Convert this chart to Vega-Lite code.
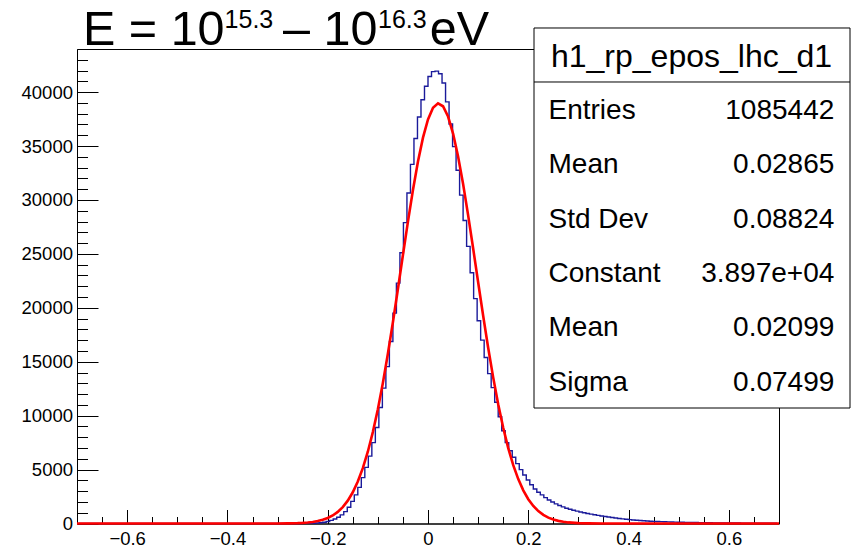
{
  "$schema": "https://vega.github.io/schema/vega-lite/v6.json",
  "width": 702,
  "height": 474.5,
  "autosize": {"type": "none"},
  "padding": {"left": 77, "top": 49, "right": 76, "bottom": 23.5},
  "background": "#ffffff",
  "config": {
    "view": {"stroke": "#000000", "strokeWidth": 1},
    "font": "Liberation Sans",
    "axis": {"labelFont": "Liberation Sans", "labelFontSize": 18.5, "labelColor": "#000000", "tickColor": "#000000", "tickWidth": 1, "domainColor": "#000000", "domainWidth": 1, "grid": false, "labelFlush": false, "labelOverlap": false, "zindex": 1}
  },
  "datasets": {
    "hist": [
      {"x": -0.6965, "n": 0}, {"x": -0.6895, "n": 0}, {"x": -0.6825, "n": 0}, {"x": -0.6755, "n": 0}, {"x": -0.6685, "n": 0},
      {"x": -0.6615, "n": 0}, {"x": -0.6545, "n": 0}, {"x": -0.6475, "n": 0}, {"x": -0.6405, "n": 0}, {"x": -0.6335, "n": 0},
      {"x": -0.6265, "n": 0}, {"x": -0.6195, "n": 0}, {"x": -0.6125, "n": 0}, {"x": -0.6055, "n": 0}, {"x": -0.5985, "n": 0},
      {"x": -0.5915, "n": 0}, {"x": -0.5845, "n": 0}, {"x": -0.5775, "n": 0}, {"x": -0.5705, "n": 0}, {"x": -0.5635, "n": 0},
      {"x": -0.5565, "n": 0}, {"x": -0.5495, "n": 0}, {"x": -0.5425, "n": 0}, {"x": -0.5355, "n": 0}, {"x": -0.5285, "n": 0},
      {"x": -0.5215, "n": 0}, {"x": -0.5145, "n": 0}, {"x": -0.5075, "n": 0}, {"x": -0.5005, "n": 0}, {"x": -0.4935, "n": 0},
      {"x": -0.4865, "n": 0}, {"x": -0.4795, "n": 0}, {"x": -0.4725, "n": 0}, {"x": -0.4655, "n": 0}, {"x": -0.4585, "n": 0},
      {"x": -0.4515, "n": 0}, {"x": -0.4445, "n": 0}, {"x": -0.4375, "n": 0}, {"x": -0.4305, "n": 0}, {"x": -0.4235, "n": 0},
      {"x": -0.4165, "n": 0}, {"x": -0.4095, "n": 0}, {"x": -0.4025, "n": 0}, {"x": -0.3955, "n": 0}, {"x": -0.3885, "n": 0},
      {"x": -0.3815, "n": 0}, {"x": -0.3745, "n": 0}, {"x": -0.3675, "n": 0}, {"x": -0.3605, "n": 0}, {"x": -0.3535, "n": 0},
      {"x": -0.3465, "n": 0}, {"x": -0.3395, "n": 0}, {"x": -0.3325, "n": 0}, {"x": -0.3255, "n": 0}, {"x": -0.3185, "n": 0},
      {"x": -0.3115, "n": 0}, {"x": -0.3045, "n": 0}, {"x": -0.2975, "n": 0}, {"x": -0.2905, "n": 0}, {"x": -0.2835, "n": 0},
      {"x": -0.2765, "n": 0}, {"x": -0.2695, "n": 0}, {"x": -0.2625, "n": 3}, {"x": -0.2555, "n": 5}, {"x": -0.2485, "n": 8},
      {"x": -0.2415, "n": 12}, {"x": -0.2345, "n": 15}, {"x": -0.2275, "n": 25}, {"x": -0.2205, "n": 45}, {"x": -0.2135, "n": 75},
      {"x": -0.2065, "n": 120}, {"x": -0.1995, "n": 190}, {"x": -0.1925, "n": 290}, {"x": -0.1855, "n": 420}, {"x": -0.1785, "n": 580},
      {"x": -0.1715, "n": 800}, {"x": -0.1645, "n": 1100}, {"x": -0.1575, "n": 1500}, {"x": -0.1505, "n": 2050}, {"x": -0.1435, "n": 2650},
      {"x": -0.1365, "n": 3350}, {"x": -0.1295, "n": 4250}, {"x": -0.1225, "n": 5200}, {"x": -0.1155, "n": 6250}, {"x": -0.1085, "n": 7500},
      {"x": -0.1015, "n": 8900}, {"x": -0.0945, "n": 10750}, {"x": -0.0875, "n": 12550}, {"x": -0.0805, "n": 14550}, {"x": -0.0735, "n": 16870},
      {"x": -0.0665, "n": 19510}, {"x": -0.0595, "n": 22290}, {"x": -0.0525, "n": 25100}, {"x": -0.0455, "n": 27900}, {"x": -0.0385, "n": 30650},
      {"x": -0.0315, "n": 33300}, {"x": -0.0245, "n": 35700}, {"x": -0.0175, "n": 37700}, {"x": -0.0105, "n": 39300}, {"x": -0.0035, "n": 40550},
      {"x": 0.0035, "n": 41450}, {"x": 0.0105, "n": 41900}, {"x": 0.0175, "n": 41950}, {"x": 0.0245, "n": 41700}, {"x": 0.0315, "n": 40850},
      {"x": 0.0385, "n": 39100}, {"x": 0.0455, "n": 37050}, {"x": 0.0525, "n": 34950}, {"x": 0.0595, "n": 32750}, {"x": 0.0665, "n": 30450},
      {"x": 0.0735, "n": 28100}, {"x": 0.0805, "n": 25700}, {"x": 0.0875, "n": 23250}, {"x": 0.0945, "n": 20850}, {"x": 0.1015, "n": 18800},
      {"x": 0.1085, "n": 17000}, {"x": 0.1155, "n": 15400}, {"x": 0.1225, "n": 13900}, {"x": 0.1295, "n": 12600}, {"x": 0.1365, "n": 11250},
      {"x": 0.1435, "n": 9900}, {"x": 0.1505, "n": 8600}, {"x": 0.1575, "n": 7500}, {"x": 0.1645, "n": 6750}, {"x": 0.1715, "n": 6150},
      {"x": 0.1785, "n": 5550}, {"x": 0.1855, "n": 5000}, {"x": 0.1925, "n": 4500}, {"x": 0.1995, "n": 4030}, {"x": 0.2065, "n": 3600},
      {"x": 0.2135, "n": 3200}, {"x": 0.2205, "n": 2900}, {"x": 0.2275, "n": 2650}, {"x": 0.2345, "n": 2400}, {"x": 0.2415, "n": 2180},
      {"x": 0.2485, "n": 1990}, {"x": 0.2555, "n": 1820}, {"x": 0.2625, "n": 1670}, {"x": 0.2695, "n": 1540}, {"x": 0.2765, "n": 1420},
      {"x": 0.2835, "n": 1320}, {"x": 0.2905, "n": 1230}, {"x": 0.2975, "n": 1150}, {"x": 0.3045, "n": 1070}, {"x": 0.3115, "n": 1000},
      {"x": 0.3185, "n": 930}, {"x": 0.3255, "n": 870}, {"x": 0.3325, "n": 810}, {"x": 0.3395, "n": 750}, {"x": 0.3465, "n": 700},
      {"x": 0.3535, "n": 650}, {"x": 0.3605, "n": 600}, {"x": 0.3675, "n": 555}, {"x": 0.3745, "n": 510}, {"x": 0.3815, "n": 470},
      {"x": 0.3885, "n": 430}, {"x": 0.3955, "n": 395}, {"x": 0.4025, "n": 360}, {"x": 0.4095, "n": 330}, {"x": 0.4165, "n": 300},
      {"x": 0.4235, "n": 275}, {"x": 0.4305, "n": 255}, {"x": 0.4375, "n": 235}, {"x": 0.4445, "n": 215}, {"x": 0.4515, "n": 200},
      {"x": 0.4585, "n": 185}, {"x": 0.4655, "n": 170}, {"x": 0.4725, "n": 160}, {"x": 0.4795, "n": 150}, {"x": 0.4865, "n": 140},
      {"x": 0.4935, "n": 130}, {"x": 0.5005, "n": 120}, {"x": 0.5075, "n": 112}, {"x": 0.5145, "n": 105}, {"x": 0.5215, "n": 98},
      {"x": 0.5285, "n": 92}, {"x": 0.5355, "n": 86}, {"x": 0.5425, "n": 80}, {"x": 0.5495, "n": 75}, {"x": 0.5565, "n": 70},
      {"x": 0.5635, "n": 66}, {"x": 0.5705, "n": 62}, {"x": 0.5775, "n": 58}, {"x": 0.5845, "n": 54}, {"x": 0.5915, "n": 51},
      {"x": 0.5985, "n": 48}, {"x": 0.6055, "n": 45}, {"x": 0.6125, "n": 42}, {"x": 0.6195, "n": 40}, {"x": 0.6265, "n": 37},
      {"x": 0.6335, "n": 35}, {"x": 0.6405, "n": 33}, {"x": 0.6475, "n": 31}, {"x": 0.6545, "n": 29}, {"x": 0.6615, "n": 27},
      {"x": 0.6685, "n": 26}, {"x": 0.6755, "n": 24}, {"x": 0.6825, "n": 23}, {"x": 0.6895, "n": 22}, {"x": 0.6965, "n": 20}
    ],
    "fit": [
      {"x": -0.70, "g": 0}, {"x": -0.40, "g": 0}, {"x": -0.30, "g": 4}, {"x": -0.28, "g": 12}, {"x": -0.26, "g": 35},
      {"x": -0.25, "g": 57}, {"x": -0.24, "g": 91}, {"x": -0.23, "g": 144}, {"x": -0.22, "g": 223}, {"x": -0.21, "g": 339},
      {"x": -0.20, "g": 507}, {"x": -0.19, "g": 744}, {"x": -0.18, "g": 1074}, {"x": -0.17, "g": 1521}, {"x": -0.16, "g": 2117},
      {"x": -0.15, "g": 2895}, {"x": -0.14, "g": 3889}, {"x": -0.13, "g": 5133}, {"x": -0.12, "g": 6654}, {"x": -0.11, "g": 8474},
      {"x": -0.10, "g": 10603}, {"x": -0.09, "g": 13032}, {"x": -0.08, "g": 15735}, {"x": -0.07, "g": 18664}, {"x": -0.06, "g": 21747},
      {"x": -0.05, "g": 24895}, {"x": -0.04, "g": 27993}, {"x": -0.03, "g": 30926}, {"x": -0.02, "g": 33562}, {"x": -0.01, "g": 35780},
      {"x": 0.00, "g": 37473}, {"x": 0.01, "g": 38554}, {"x": 0.02, "g": 38967}, {"x": 0.03, "g": 38690}, {"x": 0.04, "g": 37738},
      {"x": 0.05, "g": 36161}, {"x": 0.06, "g": 34038}, {"x": 0.07, "g": 31477}, {"x": 0.08, "g": 28593}, {"x": 0.09, "g": 25518},
      {"x": 0.10, "g": 22371}, {"x": 0.11, "g": 19268}, {"x": 0.12, "g": 16301}, {"x": 0.13, "g": 13550}, {"x": 0.14, "g": 11062},
      {"x": 0.15, "g": 8873}, {"x": 0.16, "g": 6992}, {"x": 0.17, "g": 5413}, {"x": 0.18, "g": 4116}, {"x": 0.19, "g": 3075},
      {"x": 0.20, "g": 2256}, {"x": 0.21, "g": 1627}, {"x": 0.22, "g": 1152}, {"x": 0.23, "g": 802}, {"x": 0.24, "g": 548},
      {"x": 0.25, "g": 368}, {"x": 0.26, "g": 243}, {"x": 0.27, "g": 157}, {"x": 0.28, "g": 100}, {"x": 0.30, "g": 39},
      {"x": 0.32, "g": 14}, {"x": 0.35, "g": 3}, {"x": 0.40, "g": 0}, {"x": 0.70, "g": 0}
    ],
    "stats": [
      {"id": "entries", "name": "Entries", "val": "1085442"},
      {"id": "mean", "name": "Mean", "val": "0.02865"},
      {"id": "stddev", "name": "Std Dev", "val": "0.08824"},
      {"id": "constant", "name": "Constant", "val": "3.897e+04"},
      {"id": "fitmean", "name": "Mean", "val": "0.02099"},
      {"id": "sigma", "name": "Sigma", "val": "0.07499"}
    ]
  },
  "resolve": {"scale": {"y": "independent"}, "axis": {"x": "independent", "y": "independent"}},
  "layer": [
    {
      "data": {"name": "hist"},
      "mark": {"type": "line", "interpolate": "step", "color": "#1a1a9a", "strokeWidth": 1.4},
      "encoding": {
        "x": {"field": "x", "type": "quantitative", "scale": {"domain": [-0.7, 0.7], "nice": false, "zero": false},
              "axis": {"orient": "bottom", "title": null, "values": [-0.6, -0.4, -0.2, 0, 0.2, 0.4, 0.6], "format": "~g", "ticks": false, "domain": true, "labelPadding": 5.5}},
        "y": {"field": "n", "type": "quantitative", "scale": {"domain": [0, 44000], "nice": false, "zero": false},
              "axis": {"orient": "left", "title": null, "values": [0, 5000, 10000, 15000, 20000, 25000, 30000, 35000, 40000], "format": "d", "ticks": false, "domain": true, "labelPadding": 4.5}}
      }
    },
    {
      "data": {"name": "fit"},
      "mark": {"type": "line", "color": "#ff0000", "strokeWidth": 2.6},
      "encoding": {
        "x": {"field": "x", "type": "quantitative", "scale": {"domain": [-0.7, 0.7], "nice": false, "zero": false},
              "axis": {"orient": "bottom", "title": null, "values": [-0.6, -0.4, -0.2, 0, 0.2, 0.4, 0.6], "labels": false, "domain": false, "tickSize": -14}},
        "y": {"field": "g", "type": "quantitative", "scale": {"domain": [0, 44000], "nice": false, "zero": false},
              "axis": {"orient": "left", "title": null, "values": [0, 5000, 10000, 15000, 20000, 25000, 30000, 35000, 40000], "labels": false, "domain": false, "tickSize": -21}}
      }
    },
    {
      "data": {"values": [{"box": "stats"}]},
      "mark": {"type": "rect", "fill": "#ffffff", "stroke": "#000000", "strokeWidth": 1},
      "encoding": {
        "x": {"datum": 0.2114, "type": "quantitative", "scale": {"domain": [-0.7, 0.7], "nice": false, "zero": false},
              "axis": {"orient": "bottom", "title": null, "values": [-0.65, -0.55, -0.5, -0.45, -0.35, -0.3, -0.25, -0.15, -0.1, -0.05, 0.05, 0.1, 0.15, 0.25, 0.3, 0.35, 0.45, 0.5, 0.55, 0.65], "labels": false, "domain": false, "tickSize": -7}},
        "x2": {"datum": 0.8416},
        "y": {"datum": 45948, "type": "quantitative", "scale": {"domain": [0, 44000], "nice": false, "zero": false},
              "axis": {"orient": "left", "title": null, "values": [1000, 2000, 3000, 4000, 6000, 7000, 8000, 9000, 11000, 12000, 13000, 14000, 16000, 17000, 18000, 19000, 21000, 22000, 23000, 24000, 26000, 27000, 28000, 29000, 31000, 32000, 33000, 34000, 36000, 37000, 38000, 39000, 41000, 42000, 43000], "labels": false, "domain": false, "tickSize": -10.5}},
        "y2": {"datum": 10710}
      }
    },
    {
      "data": {"values": [{"line": "header"}]},
      "mark": {"type": "rule", "color": "#000000", "strokeWidth": 1},
      "encoding": {
        "x": {"datum": 0.2114, "type": "quantitative", "scale": {"domain": [-0.7, 0.7], "nice": false, "zero": false}, "axis": null},
        "x2": {"datum": 0.8416},
        "y": {"datum": 40941, "type": "quantitative", "scale": {"domain": [0, 44000], "nice": false, "zero": false}, "axis": null}
      }
    },
    {
      "data": {"values": [{"t": "h1_rp_epos_lhc_d1"}]},
      "mark": {"type": "text", "align": "center", "baseline": "alphabetic", "fontSize": 32, "font": "Liberation Sans", "color": "#000000"},
      "encoding": {
        "x": {"datum": 0.5255, "type": "quantitative", "scale": {"domain": [-0.7, 0.7], "nice": false, "zero": false}, "axis": null},
        "y": {"datum": 42360, "type": "quantitative", "scale": {"domain": [0, 44000], "nice": false, "zero": false}, "axis": null},
        "text": {"field": "t"}
      }
    },
    {
      "data": {"name": "stats"},
      "mark": {"type": "text", "align": "left", "baseline": "alphabetic", "fontSize": 28, "font": "Liberation Sans", "color": "#000000"},
      "encoding": {
        "x": {"datum": 0.2403, "type": "quantitative", "scale": {"domain": [-0.7, 0.7], "nice": false, "zero": false}, "axis": null},
        "y": {"field": "id", "type": "ordinal", "sort": null, "scale": {"type": "point", "padding": 0, "range": [70, 341.5]}, "axis": null},
        "text": {"field": "name"}
      }
    },
    {
      "data": {"name": "stats"},
      "mark": {"type": "text", "align": "right", "baseline": "alphabetic", "fontSize": 28, "font": "Liberation Sans", "color": "#000000"},
      "encoding": {
        "x": {"datum": 0.8103, "type": "quantitative", "scale": {"domain": [-0.7, 0.7], "nice": false, "zero": false}, "axis": null},
        "y": {"field": "id", "type": "ordinal", "sort": null, "scale": {"type": "point", "padding": 0, "range": [70, 341.5]}, "axis": null},
        "text": {"field": "val"}
      }
    },
    {
      "data": {"values": [{"t": "E = 10"}]},
      "mark": {"type": "text", "align": "left", "baseline": "alphabetic", "fontSize": 48.5, "font": "Liberation Sans", "color": "#000000"},
      "encoding": {
        "x": {"datum": -0.688, "type": "quantitative", "scale": {"domain": [-0.7, 0.7], "nice": false, "zero": false}, "axis": null},
        "y": {"datum": 44372, "type": "quantitative", "scale": {"domain": [0, 44000], "nice": false, "zero": false}, "axis": null},
        "text": {"field": "t"}
      }
    },
    {
      "data": {"values": [{"t": "15.3"}]},
      "mark": {"type": "text", "align": "left", "baseline": "alphabetic", "fontSize": 25, "font": "Liberation Sans", "color": "#000000"},
      "encoding": {
        "x": {"datum": -0.4056, "type": "quantitative", "scale": {"domain": [-0.7, 0.7], "nice": false, "zero": false}, "axis": null},
        "y": {"datum": 45920, "type": "quantitative", "scale": {"domain": [0, 44000], "nice": false, "zero": false}, "axis": null},
        "text": {"field": "t"}
      }
    },
    {
      "data": {"values": [{"t": "– 10"}]},
      "mark": {"type": "text", "align": "left", "baseline": "alphabetic", "fontSize": 48.5, "font": "Liberation Sans", "color": "#000000"},
      "encoding": {
        "x": {"datum": -0.2892, "type": "quantitative", "scale": {"domain": [-0.7, 0.7], "nice": false, "zero": false}, "axis": null},
        "y": {"datum": 44372, "type": "quantitative", "scale": {"domain": [0, 44000], "nice": false, "zero": false}, "axis": null},
        "text": {"field": "t"}
      }
    },
    {
      "data": {"values": [{"t": "16.3"}]},
      "mark": {"type": "text", "align": "left", "baseline": "alphabetic", "fontSize": 25, "font": "Liberation Sans", "color": "#000000"},
      "encoding": {
        "x": {"datum": -0.0997, "type": "quantitative", "scale": {"domain": [-0.7, 0.7], "nice": false, "zero": false}, "axis": null},
        "y": {"datum": 45920, "type": "quantitative", "scale": {"domain": [0, 44000], "nice": false, "zero": false}, "axis": null},
        "text": {"field": "t"}
      }
    },
    {
      "data": {"values": [{"t": "eV"}]},
      "mark": {"type": "text", "align": "left", "baseline": "alphabetic", "fontSize": 48.5, "font": "Liberation Sans", "color": "#000000"},
      "encoding": {
        "x": {"datum": 0.0036, "type": "quantitative", "scale": {"domain": [-0.7, 0.7], "nice": false, "zero": false}, "axis": null},
        "y": {"datum": 44372, "type": "quantitative", "scale": {"domain": [0, 44000], "nice": false, "zero": false}, "axis": null},
        "text": {"field": "t"}
      }
    }
  ]
}
